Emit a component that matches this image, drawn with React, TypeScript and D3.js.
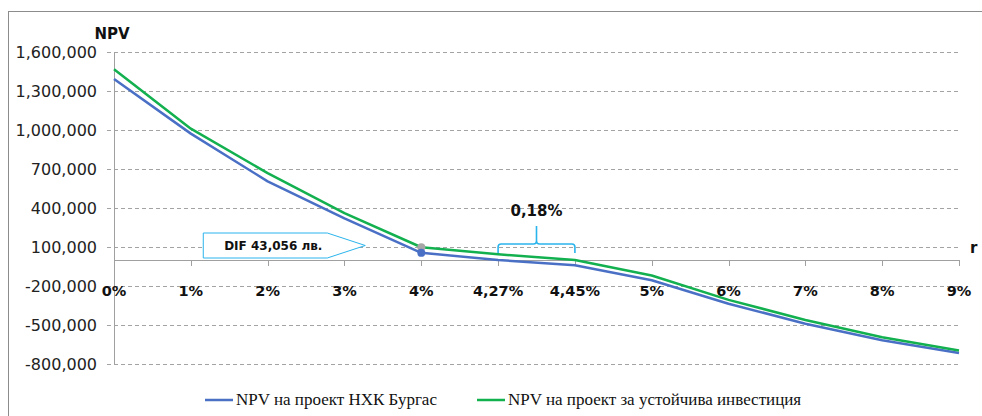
import * as d3 from 'd3';

const rates = ['0%', '1%', '2%', '3%', '4%', '4,27%', '4,45%', '5%', '6%', '7%', '8%', '9%'];
const npvBurgas = [1392000, 972000, 605000, 321000, 55000, 0, -41000, -156000, -336000, -490000, -618000, -716000];
const npvSustainable = [1467000, 1010000, 668000, 360000, 98000, 44000, 0, -119000, -307000, -461000, -594000, -696000];
const yTicks = [-800000, -500000, -200000, 100000, 400000, 700000, 1000000, 1300000, 1600000];
const seriesNames = ['NPV на проект НХК Бургас', 'NPV на проект за устойчива инвестиция'];
const difLabel = 'DIF 43,056 лв.';
const gapLabel = '0,18%';

const W = 982;
const H = 416;
const blue = '#4a70c6';
const green = '#12b04f';
const cyan = '#2ab4ec';
const grid = '#a3a3a3';

export default function App() {
  const x = d3.scalePoint().domain(rates).range([114, 959]);
  const y = d3.scaleLinear().domain([-800000, 1600000]).range([364, 52]);
  // excel style: plain hyphen instead of the unicode minus
  const fmt = (v: number) => d3.format(',')(v).replace('\u2212', '-');

  const line = d3
    .line<number>()
    .x((_, i) => x(rates[i]) as number)
    .y((v) => y(v));

  const y0 = y(0);
  const x4 = x('4%') as number;
  const bx1 = x('4,27%') as number;
  const bx2 = x('4,45%') as number;
  const mid = (bx1 + bx2) / 2;

  // callout geometry, anchored left of the 4% point
  const tip = x4 - 56;
  const cl = tip - 162;
  const cr = tip - 38;
  const ct = y0 - 27;
  const cb = y0 - 2;

  const braceBottom = y0 - 7;
  const braceTop = y0 - 16;
  const bracePeak = y0 - 34;
  const brace = `M${bx1},${braceBottom} V${braceTop + 3} Q${bx1},${braceTop} ${bx1 + 3},${braceTop} H${mid - 3} Q${mid},${braceTop} ${mid},${braceTop - 3} V${bracePeak} M${mid},${braceTop - 3} Q${mid},${braceTop} ${mid + 3},${braceTop} H${bx2 - 3} Q${bx2},${braceTop} ${bx2},${braceTop + 3} V${braceBottom}`;

  return (
    <div style={{ position: 'fixed', left: 0, top: 0 }}>
      <svg width={W} height={H} style={{ display: 'block', background: '#fff' }}>
        <rect x={8.5} y={11.5} width={1000} height={500} fill="none" stroke="#8c8c8c" />

        {/* grid + y labels */}
        {yTicks.map((t) => (
          <g key={t}>
            <line x1={107} x2={958} y1={Math.round(y(t)) + 0.5} y2={Math.round(y(t)) + 0.5}
              stroke={grid} strokeDasharray="4 3" />
            <text x={97} y={y(t)} dy="0.36em" textAnchor="end" fontFamily="DejaVu Sans" fontSize={16} fill="#222">
              {fmt(t)}
            </text>
          </g>
        ))}

        {/* y axis */}
        <line x1={114.5} x2={114.5} y1={y(1600000)} y2={y(-800000)} stroke="#a0a0a0" />

        {/* x axis */}
        <line x1={114} x2={959} y1={Math.round(y0) + 0.5} y2={Math.round(y0) + 0.5} stroke="#a0a0a0" />
        {rates.map((r) => (
          <g key={r}>
            <line x1={Math.round(x(r) as number) + 0.5} x2={Math.round(x(r) as number) + 0.5}
              y1={y0} y2={y0 + 6} stroke="#a0a0a0" />
            <text x={x(r)} y={y0 + 36} textAnchor="middle" fontFamily="DejaVu Sans" fontWeight="bold"
              fontSize={14.5} fill="#111">
              {r}
            </text>
          </g>
        ))}

        <text x={112} y={39} textAnchor="middle" fontFamily="DejaVu Sans" fontWeight="bold" fontSize={15} fill="#111">NPV</text>
        <text x={970} y={253} fontFamily="DejaVu Sans" fontWeight="bold" fontSize={15} fill="#111">r</text>

        {/* series */}
        <path d={line(npvBurgas) as string} fill="none" stroke={blue} strokeWidth={2.5} strokeLinejoin="round" />
        <path d={line(npvSustainable) as string} fill="none" stroke={green} strokeWidth={2.5} strokeLinejoin="round" />
        <circle cx={x4} cy={y(npvSustainable[4])} r={4} fill="#a6a6a6" />
        <circle cx={x4} cy={y(npvBurgas[4])} r={4} fill={blue} />

        {/* DIF callout */}
        <path d={`M${cl},${ct} H${cr} L${tip},${(ct + cb) / 2} L${cr},${cb} H${cl} Z`} fill="#fff" stroke={cyan} strokeWidth={1} />
        <text x={(cl + cr) / 2 + 8} y={(ct + cb) / 2} dy="0.36em" textAnchor="middle" fontFamily="DejaVu Sans"
          fontWeight="bold" fontSize={12} fill="#111">
          {difLabel}
        </text>

        {/* brace */}
        <path d={brace} fill="none" stroke={cyan} strokeWidth={1.6} />
        <text x={mid} y={216} textAnchor="middle" fontFamily="DejaVu Sans" fontWeight="bold" fontSize={15} fill="#111">
          {gapLabel}
        </text>

        {/* legend */}
        <line x1={205} x2={233} y1={400} y2={400} stroke={blue} strokeWidth={2.5} />
        <text x={236} y={405} fontFamily="Liberation Serif" fontSize={17} fill="#111">{seriesNames[0]}</text>
        <line x1={477} x2={505} y1={400} y2={400} stroke={green} strokeWidth={2.5} />
        <text x={508} y={405} fontFamily="Liberation Serif" fontSize={17} fill="#111">{seriesNames[1]}</text>
      </svg>
    </div>
  );
}
